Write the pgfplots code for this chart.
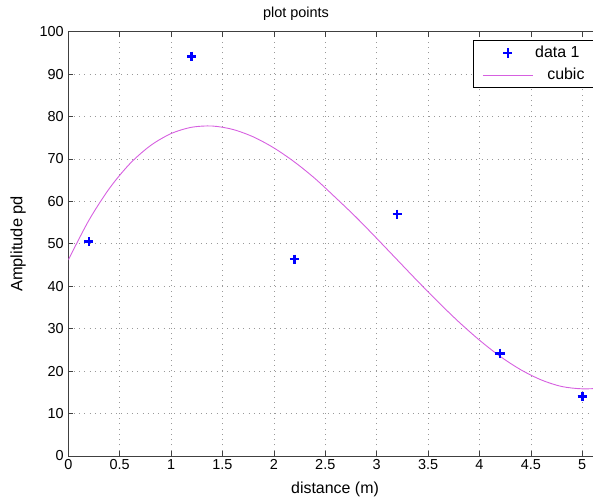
\documentclass[border=0pt]{standalone}
\usepackage{pgfplots}
\pgfplotsset{compat=1.18}
\usepackage{fontspec}
\setmainfont{Liberation Sans}
\definecolor{cubiccol}{RGB}{214,96,224}
\pgfplotsset{
  markleg/.style={legend image code/.code={\draw[##1] plot[mark=+] coordinates {(0.88cm,0cm)};}},
  lineleg/.style={legend image code/.code={\draw[##1] (0cm,0cm) -- (1.76cm,0cm);}},
}
\begin{document}
\begin{tikzpicture}
\path[use as bounding box, clip] (0,0) rectangle (593bp,499bp);
\begin{axis}[
  at={(68.3bp,43bp)}, anchor=origin,
  scale only axis,
  width=544.8bp, height=424.3bp,
  xmin=0, xmax=5.3, ymin=0, ymax=100,
  xtick={0,0.5,...,5}, ytick={0,10,...,100},
  /pgf/number format/assume math mode=true,
  tick label style={font=\fontsize{14.5}{16}\selectfont},
  xticklabels={0,0.5,1,1.5,2,2.5,3,3.5,4,4.5,5},
  tick align=inside,
  major tick length=5bp,
  tick style={black!75, line width=0.7bp},
  axis line style={black!75, line width=0.8bp},
  grid=major,
  grid style={black!40, line width=0.7bp, dash pattern=on 0.9bp off 4.4bp},
  title={plot points},
  title style={at={(axis description cs:0.418,1.027)}, anchor=center, font=\fontsize{14.5}{16}\selectfont},
  xlabel={distance (m)},
  xlabel style={at={(axis description cs:0.4896,-0.0778)}, anchor=center, font=\fontsize{16}{18}\selectfont},
  ylabel={Amplitude pd},
  ylabel style={at={(axis description cs:-0.0923,0.5)}, anchor=center, font=\fontsize{16.5}{18}\selectfont},
  yticklabel style={xshift=-1bp},
  legend style={at={(axis cs:3.937,98.04)}, anchor=north west, draw=black, line width=0.8bp, fill=white,
    font=\fontsize{16}{18}\selectfont, cells={anchor=east}, inner xsep=9bp, inner ysep=4bp, row sep=5bp},
]
\addplot[only marks, mark=+, mark size=4.6bp, blue, line width=2.5bp, markleg]
  coordinates {(0.2,50.5) (1.2,94.2) (2.2,46.4) (3.2,57.0) (4.2,24.2) (5.0,14.0)};
\addlegendentry{data 1\rule{14bp}{0pt}}
\addplot[cubiccol, line width=0.9bp, smooth, no marks, lineleg]
  coordinates {
  (0,46.2) (0.2,55.54) (0.4,63.07) (0.6,68.91) (0.8,73.17) (1.0,75.99)
  (1.2,77.48) (1.4,77.77) (1.6,76.97) (1.8,75.21) (2.0,72.61) (2.2,69.30)
  (2.4,65.39) (2.6,60.90) (2.8,56.27) (3.0,51.30) (3.2,46.23) (3.4,41.17)
  (3.6,36.25) (3.8,31.58) (4.0,27.30) (4.2,23.50) (4.4,20.35) (4.6,17.94)
  (4.8,16.38) (5.0,15.83) (5.2,16.0) (5.3,16.2)};
\addlegendentry{cubic\rule{9bp}{0pt}}
\end{axis}
\end{tikzpicture}
\end{document}
